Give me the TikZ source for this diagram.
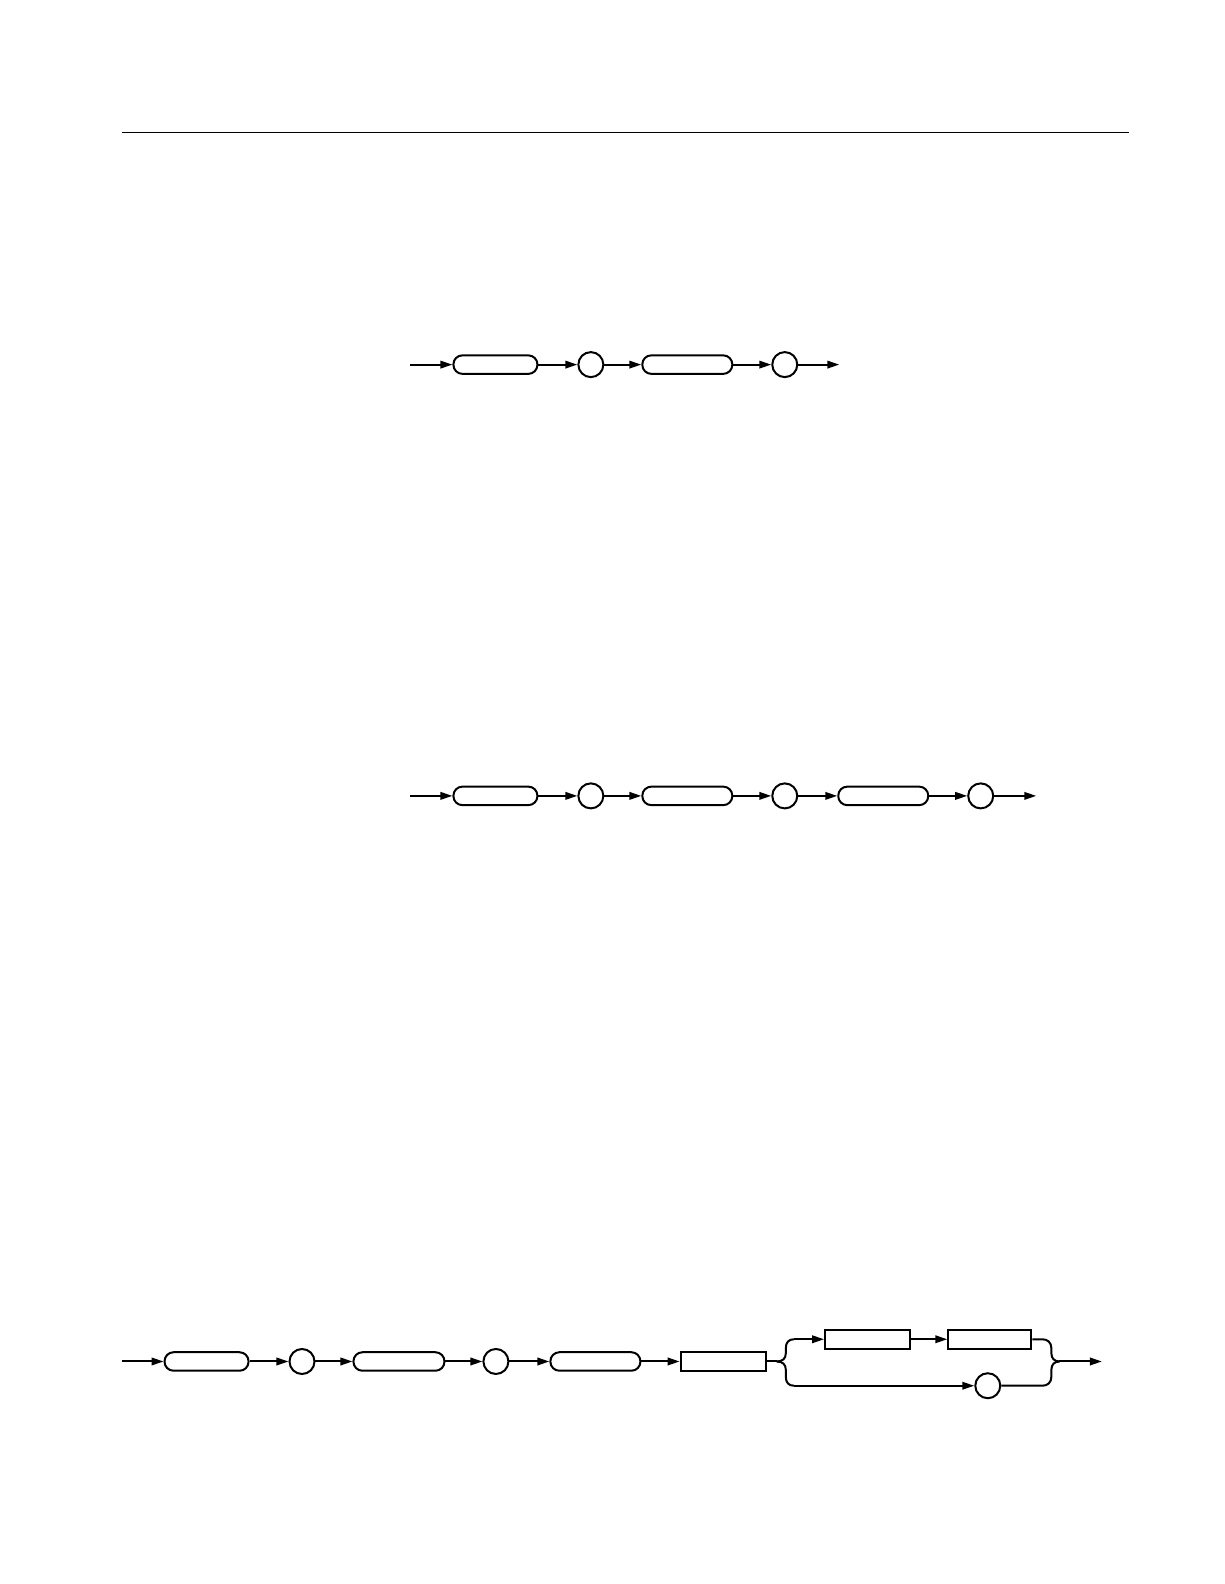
\documentclass[tikz,border=0pt]{standalone}
\usetikzlibrary{arrows.meta}
\begin{document}
\begin{tikzpicture}[x=1.01pt,y=-1.01pt,
  line width=2pt,
  rbox/.style={draw, rounded corners=9pt, minimum height=18.5pt, inner sep=0pt},
  sbox/.style={draw, minimum height=18.5pt, minimum width=85pt, inner sep=0pt},
  cnode/.style={draw, circle, minimum size=25pt, inner sep=0pt},
  arr/.style={-{Triangle[length=12pt,width=7.5pt]}}]
\useasboundingbox (0pt,0pt) rectangle (1224pt,-1584pt);
% top rule
\draw[line width=1.3pt] (121,131) -- (1118,131);

% Row 1
\coordinate (s1) at (406,361);
\node[rbox, minimum width=84pt] (a1) at (490.5,361) {};
\node[cnode] (p1) at (585,361) {};
\node[rbox, minimum width=90pt] (a2) at (680.5,361) {};
\node[cnode] (p2) at (777,361) {};
\coordinate (e1) at (831,361);
\draw[arr] (s1) -- (a1);
\draw[arr] (a1) -- (p1);
\draw[arr] (p1) -- (a2);
\draw[arr] (a2) -- (p2);
\draw[arr] (p2) -- (e1);

% Row 2
\coordinate (s2) at (406,788);
\node[rbox, minimum width=84pt] (b1) at (490.5,788) {};
\node[cnode] (q1) at (585,788) {};
\node[rbox, minimum width=90pt] (b2) at (680.5,788) {};
\node[cnode] (q2) at (777,788) {};
\node[rbox, minimum width=90pt] (b3) at (874.5,788) {};
\node[cnode] (q3) at (971,788) {};
\coordinate (e2) at (1026,788);
\draw[arr] (s2) -- (b1);
\draw[arr] (b1) -- (q1);
\draw[arr] (q1) -- (b2);
\draw[arr] (b2) -- (q2);
\draw[arr] (q2) -- (b3);
\draw[arr] (b3) -- (q3);
\draw[arr] (q3) -- (e2);

% Row 3
\coordinate (s3) at (121,1348);
\node[rbox, minimum width=84pt] (c1) at (204.5,1348) {};
\node[cnode] (r1) at (299,1348) {};
\node[rbox, minimum width=91pt] (c2) at (395,1348) {};
\node[cnode] (r2) at (491,1348) {};
\node[rbox, minimum width=90pt] (c3) at (589.5,1348) {};
\node[sbox] (d1) at (716,1348) {};
\node[sbox] (d2) at (859,1326) {};
\node[sbox, minimum width=83pt] (d3) at (980,1326) {};
\node[cnode] (r3) at (978,1372) {};
\coordinate (lb) at (769,1348);
\coordinate (lt) at (786,1326);
\coordinate (lbo) at (786,1372);
\coordinate (rt) at (1032,1326);
\coordinate (rbo) at (1032,1372);
\coordinate (rb) at (1049,1348);
\coordinate (e3) at (1091,1348);
\draw[arr] (s3) -- (c1);
\draw[arr] (c1) -- (r1);
\draw[arr] (r1) -- (c2);
\draw[arr] (c2) -- (r2);
\draw[arr] (r2) -- (c3);
\draw[arr] (c3) -- (d1);
\draw (d1) -- (lb);
\draw (lb) .. controls (775,1348) and (778,1345) .. (778,1340) -- (778,1335)
      .. controls (778,1329) and (781,1326) .. (lt);
\draw (lb) .. controls (775,1348) and (778,1351) .. (778,1356) -- (778,1363)
      .. controls (778,1369) and (781,1372) .. (lbo);
\draw[arr] (lt) -- (d2);
\draw[arr] (d2) -- (d3);
\draw[arr] (lbo) -- (r3);
\draw (d3) -- (rt) .. controls (1037,1326) and (1041,1329) .. (1041,1335) -- (1041,1340)
      .. controls (1041,1345) and (1044,1348) .. (rb);
\draw (r3) -- (rbo) .. controls (1037,1372) and (1041,1369) .. (1041,1363) -- (1041,1356)
      .. controls (1041,1351) and (1044,1348) .. (rb);
\draw[arr] (rb) -- (e3);
\end{tikzpicture}
\end{document}
